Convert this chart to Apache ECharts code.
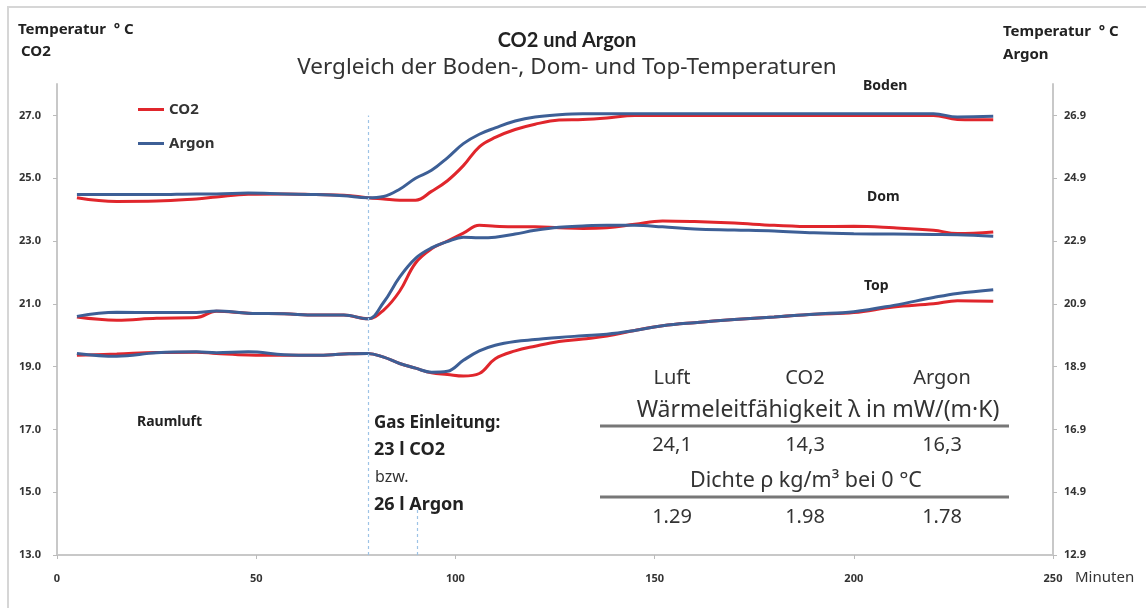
<!DOCTYPE html>
<html>
<head>
<meta charset="utf-8">
<script src="https://cdn.jsdelivr.net/npm/echarts@6/dist/echarts.min.js"></script>
<style>
  html, body { margin: 0; padding: 0; background: #fff; }
  #chart { width: 1146px; height: 608px; }
</style>
</head>
<body>
<div id="chart"></div>
<script>
// Minuten
const minutes = [5, 15, 25, 35, 40, 48, 57, 65, 72, 78, 82, 86, 90, 94, 98, 102, 106, 110, 115, 120,
  126, 132, 138, 145, 152, 160, 170, 180, 190, 200, 210, 220, 226, 235];

// CO2 (linke Achse)
const co2Boden = [24.38, 24.26, 24.27, 24.34, 24.40, 24.49, 24.50, 24.48, 24.46, 24.38, 24.34, 24.30, 24.30, 24.58, 24.92, 25.40, 26.00, 26.30, 26.55, 26.72,
  26.85, 26.87, 26.92, 27.00, 27.00, 27.00, 27.00, 27.00, 27.00, 27.00, 27.00, 27.00, 26.87, 26.86];
const co2Dom = [20.58, 20.48, 20.54, 20.56, 20.76, 20.70, 20.68, 20.64, 20.64, 20.52, 20.80, 21.40, 22.30, 22.75, 23.00, 23.25, 23.50, 23.47, 23.45, 23.45,
  23.42, 23.40, 23.42, 23.53, 23.64, 23.62, 23.57, 23.50, 23.46, 23.47, 23.42, 23.34, 23.24, 23.29];
const co2Top = [19.36, 19.40, 19.45, 19.46, 19.42, 19.37, 19.36, 19.36, 19.40, 19.42, 19.30, 19.10, 18.95, 18.80, 18.75, 18.70, 18.78, 19.25, 19.50, 19.65,
  19.80, 19.88, 19.97, 20.15, 20.30, 20.40, 20.50, 20.58, 20.67, 20.72, 20.90, 21.00, 21.10, 21.08];

// Argon (rechte Achse)
const argonBoden = [24.38, 24.38, 24.38, 24.40, 24.40, 24.43, 24.40, 24.38, 24.34, 24.28, 24.32, 24.55, 24.90, 25.15, 25.55, 26.00, 26.30, 26.50, 26.72, 26.85,
  26.92, 26.95, 26.95, 26.95, 26.95, 26.95, 26.95, 26.95, 26.95, 26.95, 26.95, 26.95, 26.85, 26.87];
const argonDom = [20.50, 20.63, 20.62, 20.62, 20.67, 20.60, 20.58, 20.54, 20.54, 20.42, 20.95, 21.75, 22.35, 22.68, 22.88, 23.02, 23.00, 23.02, 23.12, 23.24,
  23.34, 23.38, 23.40, 23.40, 23.35, 23.28, 23.25, 23.22, 23.16, 23.13, 23.12, 23.11, 23.10, 23.05];
const argonTop = [19.32, 19.23, 19.34, 19.37, 19.34, 19.37, 19.28, 19.26, 19.30, 19.32, 19.20, 19.00, 18.85, 18.72, 18.75, 19.10, 19.40, 19.58, 19.70, 19.76,
  19.83, 19.88, 19.93, 20.05, 20.20, 20.30, 20.40, 20.48, 20.57, 20.65, 20.85, 21.10, 21.23, 21.35];

const leftTicks = [13, 15, 17, 19, 21, 23, 25, 27];
const rightTicks = [12.9, 14.9, 16.9, 18.9, 20.9, 22.9, 24.9, 26.9];

// Gas Einleitung (Minuten) und Tabelle
const gasStart = 78;
const gasEnd = 90.5;
const gasNames = ['Luft', 'CO2', 'Argon'];
const conductivity = ['24,1', '14,3', '16,3'];
const density = ['1.29', '1.98', '1.78'];

const RED = '#e0262c';
const BLUE = '#3d5f96';
const FONT = '"Noto Sans", sans-serif';
const TFONT = 'Lato, "Noto Sans", sans-serif';

const chart = echarts.init(document.getElementById('chart'));

const pairs = arr => minutes.map((m, i) => [m, arr[i]]);

const lineSeries = (name, data, color, yIdx) => ({
  name: name,
  type: 'line',
  yAxisIndex: yIdx,
  data: pairs(data),
  smooth: 0.4,
  showSymbol: false,
  lineStyle: { color: color, width: 3 },
  itemStyle: { color: color },
  z: name === 'Argon' ? 3 : 2
});

const txt = (x, y, text, font, align, color) => ({
  type: 'text', x: x, y: y, silent: true,
  style: { text: text, font: font, fill: color || '#222', textAlign: align || 'left', textVerticalAlign: 'middle' }
});

const tableCols = [672, 805, 942];
const tableTexts = [];
gasNames.forEach((g, i) => {
  tableTexts.push(txt(tableCols[i], 378, g, '20px ' + FONT, 'center', '#333'));
  tableTexts.push(txt(tableCols[i], 445, conductivity[i], '20px ' + FONT, 'center', '#333'));
  tableTexts.push(txt(tableCols[i], 517, density[i], '20px ' + FONT, 'center', '#333'));
});

const option = {
  backgroundColor: '#fff',
  animation: false,
  textStyle: { fontFamily: FONT },
  title: {
    text: 'CO2 und Argon',
    subtext: 'Vergleich der Boden-, Dom- und Top-Temperaturen',
    left: 562,
    textAlign: 'center',
    top: 26,
    itemGap: 5,
    textStyle: { fontSize: 20, fontWeight: 'bold', color: '#222', fontFamily: TFONT },
    subtextStyle: { fontSize: 22.5, color: '#333', fontFamily: FONT }
  },
  legend: {
    orient: 'vertical',
    left: 133,
    top: 97,
    itemGap: 19,
    itemWidth: 26,
    itemHeight: 3,
    icon: 'rect',
    data: ['CO2', 'Argon'],
    textStyle: { fontSize: 15, fontWeight: 'bold', color: '#333', fontFamily: FONT }
  },
  grid: { left: 57, right: 93, top: 84, bottom: 53 },
  xAxis: {
    type: 'value',
    min: 0,
    max: 250,
    interval: 50,
    axisLine: { lineStyle: { color: '#c8c8c8', width: 2 } },
    axisTick: { show: true, length: 4, lineStyle: { color: '#bbb' } },
    axisLabel: { fontSize: 11, fontWeight: 'bold', color: '#333', margin: 18 },
    splitLine: { show: false }
  },
  yAxis: [
    {
      type: 'value',
      min: 13,
      max: 28,
      position: 'left',
      axisLine: { show: true, lineStyle: { color: '#c8c8c8', width: 2 } },
      axisTick: { show: true, length: 4, inside: false, customValues: leftTicks, lineStyle: { color: '#bbb' } },
      axisLabel: { customValues: leftTicks, formatter: v => v.toFixed(1), fontSize: 11, fontWeight: 'bold', color: '#333', margin: 16 },
      splitLine: { show: false }
    },
    {
      type: 'value',
      min: 12.9,
      max: 27.9,
      position: 'right',
      axisLine: { show: true, lineStyle: { color: '#c8c8c8', width: 2 } },
      axisTick: { show: true, length: 4, customValues: rightTicks, lineStyle: { color: '#bbb' } },
      axisLabel: { customValues: rightTicks, formatter: v => v.toFixed(1), fontSize: 11, fontWeight: 'bold', color: '#333', margin: 11 },
      splitLine: { show: false }
    }
  ],
  series: [
    Object.assign(lineSeries('CO2', co2Boden, RED, 0), {
      markLine: {
        silent: true,
        symbol: 'none',
        label: { show: false },
        lineStyle: { color: '#9dc3e6', type: [3, 3], width: 1.2 },
        data: [
          [{ coord: [gasStart, 13] }, { coord: [gasStart, 27] }],
          [{ coord: [gasEnd, 13] }, { coord: [gasEnd, 14.45] }]
        ]
      }
    }),
    lineSeries('CO2', co2Dom, RED, 0),
    lineSeries('CO2', co2Top, RED, 0),
    lineSeries('Argon', argonBoden, BLUE, 1),
    lineSeries('Argon', argonDom, BLUE, 1),
    lineSeries('Argon', argonTop, BLUE, 1)
  ],
  graphic: [
    { type: 'rect', shape: { x: 8, y: 7, width: 1160, height: 640 }, style: { fill: 'none', stroke: '#d6d6d6', lineWidth: 2 }, silent: true },
    txt(18, 30, 'Temperatur  ° C', 'bold 15px ' + FONT),
    txt(21, 52, 'CO2', 'bold 15px ' + FONT),
    txt(1003, 32, 'Temperatur  ° C', 'bold 15px ' + FONT),
    txt(1003, 55, 'Argon', 'bold 15px ' + FONT),
    txt(1075, 578, 'Minuten', '15px ' + FONT, 'left', '#333'),
    txt(863, 86, 'Boden', 'bold 14px ' + FONT),
    txt(867, 197, 'Dom', 'bold 14px ' + FONT),
    txt(864, 286, 'Top', 'bold 14px ' + FONT),
    txt(137, 422, 'Raumluft', 'bold 14px ' + FONT),
    txt(374, 423, 'Gas Einleitung:', 'bold 17px ' + FONT),
    txt(374, 450, '23 l CO2', 'bold 18px ' + FONT),
    txt(375, 477, 'bzw.', '16px ' + FONT, 'left', '#333'),
    txt(374, 505, '26 l Argon', 'bold 18px ' + FONT),
    txt(818, 410, 'Wärmeleitfähigkeit λ in mW/(m·K)', '23px ' + FONT, 'center', '#333'),
    txt(806, 481, 'Dichte ρ kg/m³ bei 0 °C', '21.5px ' + FONT, 'center', '#333'),
    { type: 'line', silent: true, shape: { x1: 600, y1: 426, x2: 1009, y2: 426 }, style: { stroke: '#777', lineWidth: 3 } },
    { type: 'line', silent: true, shape: { x1: 600, y1: 497, x2: 1009, y2: 497 }, style: { stroke: '#777', lineWidth: 3 } }
  ].concat(tableTexts)
};

chart.setOption(option);
</script>
</body>
</html>
